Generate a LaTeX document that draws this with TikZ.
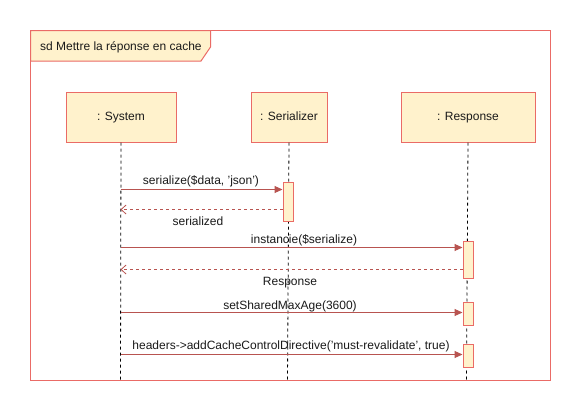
\documentclass[tikz,border=0pt]{standalone}
\usepackage{fontspec}
\setmainfont{Liberation Sans}
\usetikzlibrary{arrows.meta}
\definecolor{boxline}{HTML}{EA6B66}
\definecolor{boxfill}{HTML}{FFF2CC}
\definecolor{msgline}{HTML}{B85450}
\definecolor{txt}{HTML}{1A1A1A}
\begin{document}
\begin{tikzpicture}[x=1pt,y=-1pt,
  every node/.style={font=\fontsize{12}{14}\selectfont, text=txt, inner sep=0pt},
  objbox/.style={draw=boxline, fill=boxfill, line width=1pt, minimum height=50pt, anchor=north west, text height=7pt, text depth=0pt},
  actbox/.style={draw=boxline, fill=boxfill, line width=1pt, minimum width=10pt, anchor=north west},
  lifeline/.style={draw=black, line width=0.8pt, dash pattern=on 3pt off 3pt},
  callmsg/.style={draw=msgline, line width=1pt, -{Triangle[length=8pt,width=7pt]}},
  retmsg/.style={draw=msgline, line width=0.8pt, dash pattern=on 3pt off 3pt, -{Straight Barb[length=5pt,width=9pt,line width=0.8pt]}},
  lbl/.style={anchor=center, text height=7pt, text depth=0pt}
]
\useasboundingbox (0,0) rectangle (582,413);
\fill[white] (0,0) rectangle (582,413);
% frame
\draw[boxline, line width=1pt] (30.5,30.5) rectangle (550.5,380.5);
\draw[boxline, line width=1pt, fill=boxfill] (30.5,30.5) -- (210.5,30.5) -- (210.5,47) -- (201,61) -- (30.5,61) -- cycle;
\node[anchor=west, text height=7pt, text depth=0pt] (title) at (40,47) {sd Mettre la réponse en cache};
% objects
\node[objbox, minimum width=110pt] (sys) at (65.5,91.5) {: System};
\node[objbox, minimum width=76pt] (ser) at (250.5,91.5) {: Serializer};
\node[objbox, minimum width=134pt] (res) at (400.5,91.5) {: Response};
% labels
\node[lbl] (l1) at (201,180.5) {serialize(\$data, 'json')};
\node[lbl] (l2) at (198,222) {serialized};
\node[lbl] (l3) at (304,239.5) {instancie(\$serialize)};
\node[lbl] (l4) at (290,281.5) {Response};
\node[lbl] (l5) at (290,305.5) {setSharedMaxAge(3600)};
\node[lbl] (l6) at (291,345.5) {headers->addCacheControlDirective('must-revalidate', true)};
% lifeline ends
\coordinate (sysend) at (120.5,381.5);
\coordinate (serend) at (287.5,381.5);
\coordinate (resend) at (466.5,381.5);
\draw[lifeline] (sys.south) -- (sysend);
\draw[lifeline] (ser.south) -- (serend);
\draw[lifeline] (res.south) -- (resend);
% activations
\node[actbox, minimum height=39pt] (a1) at (282.5,181.5) {};
\node[actbox, minimum height=37pt] (a2) at (462.5,240.5) {};
\node[actbox, minimum height=23pt] (a3) at (462.5,301.5) {};
\node[actbox, minimum height=23pt] (a4) at (462.5,343.5) {};
% messages
\coordinate (s1) at (120.5,189.5);
\draw[callmsg] (s1) -- (s1 -| a1.west);
\coordinate (r1) at (282.5,209.5);
\draw[retmsg] (r1) -- (r1 -| sysend);
\coordinate (s2) at (120.5,247.5);
\draw[callmsg] (s2) -- (s2 -| a2.west);
\coordinate (r2) at (462.5,269.5);
\draw[retmsg] (r2) -- (r2 -| sysend);
\coordinate (s3) at (120.5,312.5);
\draw[callmsg] (s3) -- (s3 -| a3.west);
\coordinate (s4) at (120.5,354.5);
\draw[callmsg] (s4) -- (s4 -| a4.west);
\end{tikzpicture}
\end{document}
